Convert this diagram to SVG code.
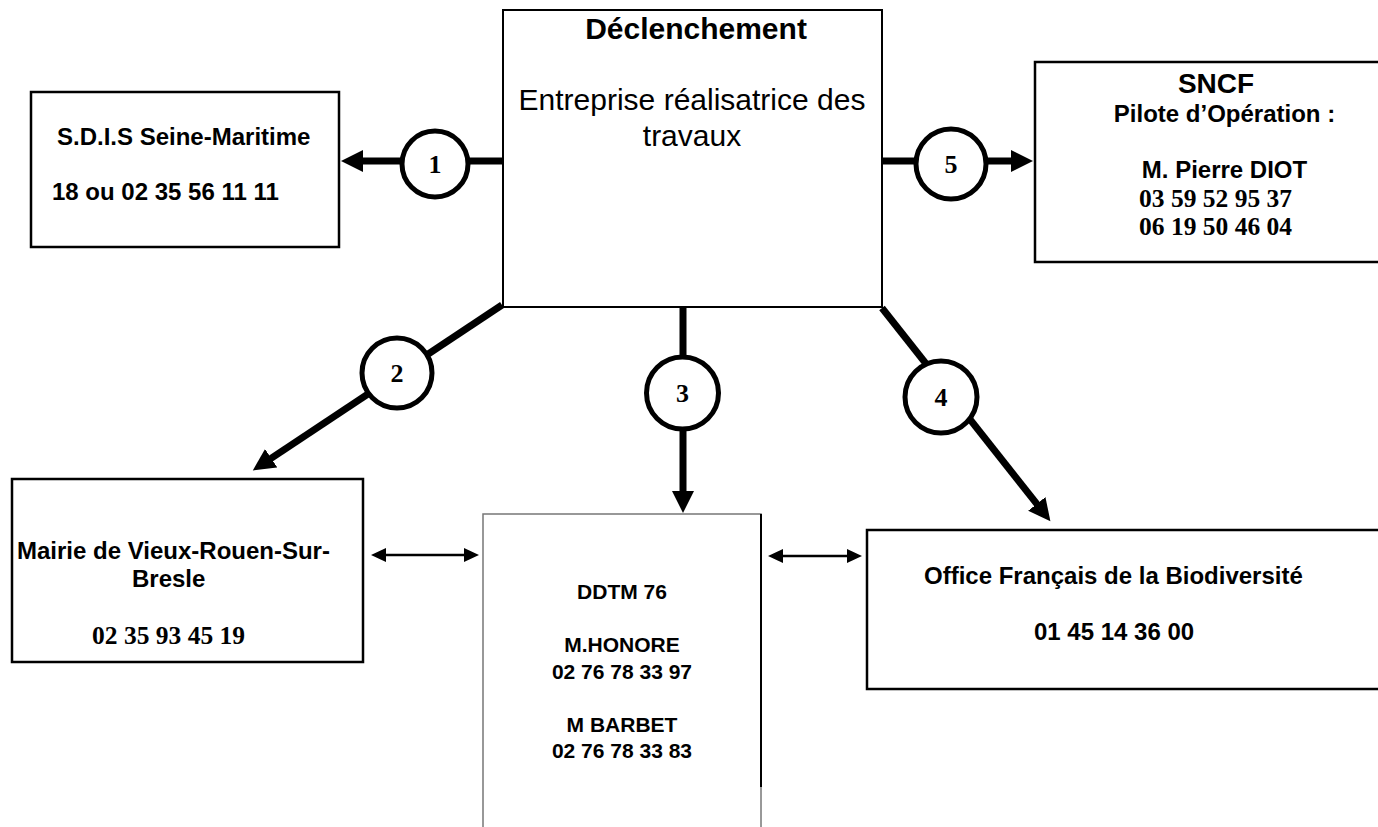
<svg xmlns="http://www.w3.org/2000/svg" width="1378" height="827" viewBox="0 0 1378 827">
<style>
.box{fill:#fff;stroke:#000;stroke-width:2.5}
.sans{font-family:"Liberation Sans",Arial,sans-serif;fill:#000}
.b{font-weight:bold}
.serif{font-family:"Liberation Serif","Times New Roman",serif;font-weight:bold;fill:#000}
.thick{stroke:#000;stroke-width:7;fill:none}
.thin{stroke:#000;stroke-width:2.5;fill:none}
.num{fill:#fff;stroke:#000;stroke-width:5}
</style>
<defs>
<marker id="big" markerUnits="userSpaceOnUse" markerWidth="24" markerHeight="24" refX="1" refY="11" orient="auto"><path d="M0,0 L22,11 L0,22 z" fill="#000"/></marker>
<marker id="small" markerUnits="userSpaceOnUse" markerWidth="17" markerHeight="16" refX="1" refY="7" orient="auto-start-reverse"><path d="M0,0 L15,7 L0,14 z" fill="#000"/></marker>
</defs>
<rect width="1378" height="827" fill="#fff"/>
<g id="connectors">
<path class="thick" d="M503,161 L362,161" marker-end="url(#big)"/>
<path class="thick" d="M882,161 L1012,161" marker-end="url(#big)"/>
<path class="thick" d="M683,307 L683,492" marker-end="url(#big)"/>
<path class="thick" d="M502,305 L270.3,458.8" marker-end="url(#big)"/>
<path class="thick" d="M882,308 L1037.4,504.7" marker-end="url(#big)"/>
<path class="thin" d="M385,555 L465,555" marker-start="url(#small)" marker-end="url(#small)"/>
<path class="thin" d="M782,556 L848,556" marker-start="url(#small)" marker-end="url(#small)"/>
<g id="c1"><circle class="num" cx="435" cy="164" r="33"/><text class="serif" x="435" y="173" font-size="26" text-anchor="middle">1</text></g>
<g id="c2"><circle class="num" cx="397" cy="373" r="35"/><text class="serif" x="397" y="382" font-size="26" text-anchor="middle">2</text></g>
<g id="c3"><circle class="num" cx="682.5" cy="393" r="36"/><text class="serif" x="682.5" y="402" font-size="26" text-anchor="middle">3</text></g>
<g id="c4"><circle class="num" cx="941" cy="397" r="36"/><text class="serif" x="941" y="406" font-size="26" text-anchor="middle">4</text></g>
<g id="c5"><circle class="num" cx="951" cy="164" r="35"/><text class="serif" x="951" y="173" font-size="26" text-anchor="middle">5</text></g>
</g>
<g id="declenchement">
<rect x="503" y="10" width="379" height="297" fill="#fff" stroke="#000" stroke-width="2"/>
<text class="sans b" x="696" y="39" font-size="30" text-anchor="middle">Déclenchement</text>
<text class="sans" x="692" y="110" font-size="30" text-anchor="middle">Entreprise réalisatrice des</text>
<text class="sans" x="692" y="146" font-size="30" text-anchor="middle">travaux</text>
</g>
<g id="sdis">
<rect class="box" x="31" y="92" width="308" height="155"/>
<text class="sans b" x="57" y="145" font-size="24">S.D.I.S Seine-Maritime</text>
<text class="sans b" x="52" y="200" font-size="24">18 ou 02 35 56 11 11</text>
</g>
<g id="sncf">
<rect class="box" x="1035" y="62" width="400" height="200"/>
<text class="sans b" x="1216" y="93" font-size="28" text-anchor="middle">SNCF</text>
<text class="sans b" x="1224.5" y="122" font-size="24" text-anchor="middle">Pilote d’Opération :</text>
<text class="sans b" x="1224.5" y="178" font-size="24" text-anchor="middle">M. Pierre DIOT</text>
<text class="serif" x="1139" y="207" font-size="25.5">03 59 52 95 37</text>
<text class="serif" x="1139" y="235" font-size="25.5">06 19 50 46 04</text>
</g>
<g id="mairie">
<rect class="box" x="12" y="479" width="351" height="183"/>
<text class="sans b" x="17" y="559" font-size="24">Mairie de Vieux-Rouen-Sur-</text>
<text class="sans b" x="132" y="587" font-size="24">Bresle</text>
<text class="serif" x="92" y="644" font-size="25.5">02 35 93 45 19</text>
</g>
<g id="ddtm">
<rect x="483" y="514" width="278" height="400" fill="#fff" stroke="#777" stroke-width="1.5"/>
<line x1="761" y1="514" x2="761" y2="787" stroke="#000" stroke-width="2"/>
<g class="sans b" font-size="21" text-anchor="middle">
<text x="622" y="599">DDTM 76</text>
<text x="622" y="652">M.HONORE</text>
<text x="622" y="679">02 76 78 33 97</text>
<text x="622" y="732">M BARBET</text>
<text x="622" y="758">02 76 78 33 83</text>
</g>
</g>
<g id="ofb">
<rect class="box" x="867" y="530" width="600" height="159"/>
<text class="sans b" x="924" y="584" font-size="24">Office Français de la Biodiversité</text>
<text class="sans b" x="1034" y="640" font-size="24">01 45 14 36 00</text>
</g>
</svg>
